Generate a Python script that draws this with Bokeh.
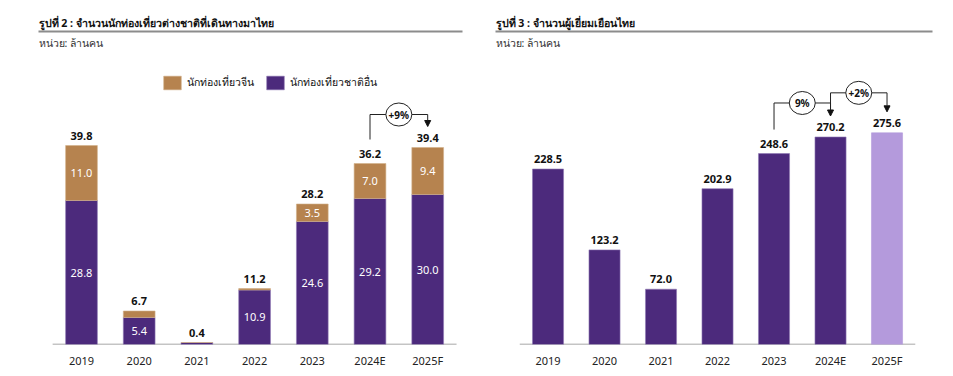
from bokeh.plotting import figure
from bokeh.layouts import row
from bokeh.models import (Range1d, FixedTicker, Label, Legend, LegendItem,
                          ColumnDataSource, BoxAnnotation, Arrow, NormalHead)
from bokeh.embed import file_html
from bokeh.resources import INLINE
from bokeh.core.properties import value

# ---------------- data ----------------
categories = ["2019", "2020", "2021", "2022", "2023", "2024E", "2025F"]
chinese = [11.0, 1.3, 0.0, 0.3, 3.5, 7.0, 9.4]
others = [28.8, 5.4, 0.4, 10.9, 24.6, 29.2, 30.0]
foreign_total = [39.8, 6.7, 0.4, 11.2, 28.2, 36.2, 39.4]
chinese_labels = ["11.0", "", "", "", "3.5", "7.0", "9.4"]
others_labels = ["28.8", "5.4", "", "10.9", "24.6", "29.2", "30.0"]
visitors = [228.5, 123.2, 72.0, 202.9, 248.6, 270.2, 275.6]
growth_left = [(5, 6, "+9%")]
growth_right = [(4, 5, "9%"), (5, 6, "+2%")]

title_left = "รูปที่ 2 : จำนวนนักท่องเที่ยวต่างชาติที่เดินทางมาไทย"
title_right = "รูปที่ 3 : จำนวนผู้เยี่ยมเยือนไทย"
unit_text = "หน่วย: ล้านคน"
legend_labels = ["นักท่องเที่ยวจีน", "นักท่องเที่ยวชาติอื่น"]

BROWN = "#B6834F"
PURPLE = "#4C2A7C"
LIGHT = "#B49ADC"
FONT = value("Noto Sans")
FONT_S = "Noto Sans"
FRAME_H = 336
TOP_PAD = 8
BOTTOM_PAD = 30


def make_fig(width, left_pad, x_start, x_end, y_end):
    p = figure(width=width, height=TOP_PAD + FRAME_H + BOTTOM_PAD,
               output_backend="svg",
               toolbar_location=None, x_range=Range1d(x_start, x_end),
               y_range=Range1d(0, y_end), y_axis_location=None,
               min_border_left=left_pad, min_border_right=0,
               min_border_top=TOP_PAD, min_border_bottom=BOTTOM_PAD)
    p.outline_line_color = None
    p.grid.visible = False
    p.background_fill_color = "white"
    p.border_fill_color = "white"
    ax = p.xaxis[0]
    ax.ticker = FixedTicker(ticks=list(range(len(categories))))
    ax.major_label_overrides = {i: c for i, c in enumerate(categories)}
    ax.axis_line_color = None
    ax.major_tick_line_color = None
    ax.minor_tick_line_color = None
    ax.major_tick_out = 0
    ax.major_label_standoff = 8
    ax.major_label_text_font = FONT_S
    ax.major_label_text_font_size = "11px"
    ax.major_label_text_color = "#222222"
    p.segment(x0=[-0.5], y0=[0], x1=[len(categories) - 0.5], y1=[0],
              line_color="#8a8a8a", line_width=1.5)
    return p


def header(p, sx, line_right, title):
    p.add_layout(Label(x=sx, y=322, x_units="screen", y_units="screen",
                       text=title, text_font=FONT_S, text_font_size="10.6px",
                       text_font_style="bold", text_color="#111111",
                       text_baseline="middle"))
    p.add_layout(BoxAnnotation(left=sx, right=line_right, bottom=312, top=314,
                               left_units="screen", right_units="screen",
                               bottom_units="screen", top_units="screen",
                               fill_color="#8c8c8c", fill_alpha=1,
                               line_color=None))
    p.add_layout(Label(x=sx, y=302, x_units="screen", y_units="screen",
                       text=unit_text, text_font=FONT_S, text_font_size="10.5px",
                       text_color="#333333", text_baseline="middle"))


def brackets(p, tops, specs, ppu):
    for (a, b, txt), lvl in specs:
        y_start = tops[a] + 24 / ppu
        y_tip = tops[b] + 21 / ppu
        y_h = max(tops[a], tops[b]) + lvl / ppu
        p.line(x=[a, a, b], y=[y_start, y_h, y_h], line_color="#222222",
               line_width=1)
        p.add_layout(Arrow(end=NormalHead(size=6, fill_color="#111111",
                                          line_color="#111111"),
                           x_start=b, y_start=y_h, x_end=b, y_end=y_tip,
                           line_color="#222222", line_width=1))
        mid = (a + b) / 2
        p.ellipse(x=[mid], y=[y_h], width=26, height=23, width_units="screen",
                  height_units="screen", fill_color="white",
                  line_color="#222222", line_width=1)
        p.text(x=[mid], y=[y_h], text=[txt], text_font=FONT,
               text_font_size="10px", text_font_style="bold",
               text_align="center", text_baseline="middle",
               text_color="#111111")


idx = list(range(len(categories)))

# ---------------- left chart ----------------
ppu_l = 5.0
pl = make_fig(480, 8, -1.265, 6.915, FRAME_H / ppu_l)
src_l = ColumnDataSource(dict(
    x=idx, others=others, chinese=chinese,
    top_c=[o + c for o, c in zip(others, chinese)],
    mid_o=[o / 2 for o in others],
    mid_c=[o + c / 2 for o, c in zip(others, chinese)],
    lab_o=others_labels, lab_c=chinese_labels,
    total=foreign_total, total_lab=[f"{v:.1f}" for v in foreign_total]))
r_other = pl.vbar(x="x", bottom=0, top="others", width=0.55, source=src_l,
                  fill_color=PURPLE, line_color="#8e78b4", line_width=0.6)
r_china = pl.vbar(x="x", bottom="others", top="top_c", width=0.55,
                  source=src_l, fill_color=BROWN, line_color="#d2b08a",
                  line_width=0.6)
pl.text(x="x", y="mid_o", text="lab_o", source=src_l, text_font=FONT,
        text_font_size="11px", text_color="white", text_align="center",
        text_baseline="middle")
pl.text(x="x", y="mid_c", text="lab_c", source=src_l, text_font=FONT,
        text_font_size="11px", text_color="white", text_align="center",
        text_baseline="middle")
pl.text(x="x", y="top_c", text="total_lab", source=src_l, text_font=FONT,
        text_font_size="11px", text_font_style="bold", text_color="#111111",
        text_align="center", text_baseline="bottom", y_offset=-6)
header(pl, 30, 454, title_left)
brackets(pl, [o + c for o, c in zip(others, chinese)],
         [(g, 33) for g in growth_left], ppu_l)
legend = Legend(items=[LegendItem(label=legend_labels[0], renderers=[r_china]),
                       LegendItem(label=legend_labels[1], renderers=[r_other])],
                orientation="horizontal", location=(153, 253),
                glyph_width=22, glyph_height=17, label_standoff=4, spacing=10,
                padding=0, margin=0, border_line_color=None,
                background_fill_alpha=0, label_text_font=FONT_S,
                label_text_font_size="10.5px", label_text_color="#111111")
pl.add_layout(legend)

# ---------------- right chart ----------------
ppu_r = 0.768
pr = make_fig(465, 0, -1.195, 7.035, FRAME_H / ppu_r)
src_r = ColumnDataSource(dict(
    x=idx, v=visitors, lab=[f"{v:.1f}" for v in visitors],
    color=[PURPLE] * (len(visitors) - 1) + [LIGHT],
    edge=["#8e78b4"] * (len(visitors) - 1) + [LIGHT]))
pr.vbar(x="x", bottom=0, top="v", width=0.55, source=src_r,
        fill_color="color", line_color="edge", line_width=0.6)
pr.text(x="x", y="v", text="lab", source=src_r, text_font=FONT,
        text_font_size="11px", text_font_style="bold", text_color="#111111",
        text_align="center", text_baseline="bottom", y_offset=-6)
header(pr, 15, 452, title_right)
brackets(pr, visitors, [(growth_right[0], 34), (growth_right[1], 40)], ppu_r)

layout = row(pl, pr, spacing=0)
open("out.html", "w").write(file_html(layout, INLINE))
